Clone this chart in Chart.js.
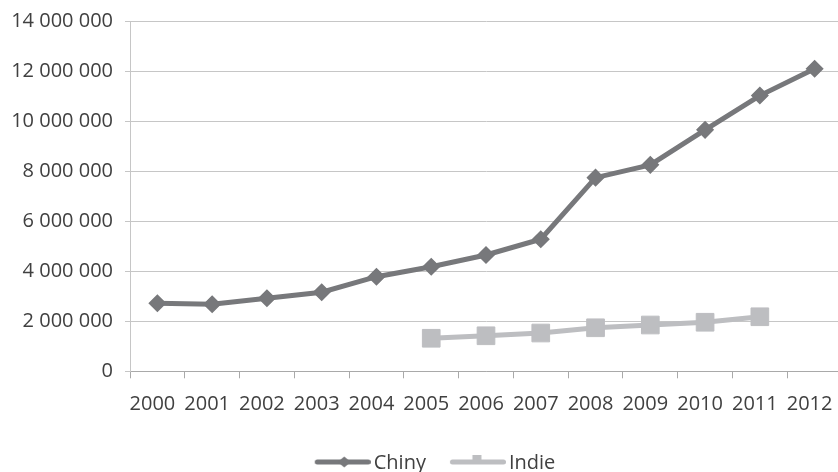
<!DOCTYPE html>
<html>
<head>
<meta charset="utf-8">
<script src="https://cdn.jsdelivr.net/npm/chart.js@4/dist/chart.umd.min.js"></script>
<style>
  html, body { margin: 0; padding: 0; background: #ffffff; overflow: hidden; }
  #frame { width: 838px; height: 472px; overflow: hidden; position: relative; }
  #box { position: absolute; left: 0; top: 0; width: 846px; height: 472px; }
</style>
</head>
<body>
<div id="frame"><div id="box"><canvas id="chart"></canvas></div></div>
<script>
// Roczne wartości dla Chin i Indii
const years = ['2000', '2001', '2002', '2003', '2004', '2005', '2006',
               '2007', '2008', '2009', '2010', '2011', '2012'];
const chiny = [2720000, 2680000, 2920000, 3160000, 3780000, 4180000, 4650000,
               5280000, 7740000, 8250000, 9650000, 11020000, 12090000];
const indie = [null, null, null, null, null, 1320000, 1420000,
               1530000, 1740000, 1850000, 1960000, 2180000, null];
const seriesNames = ['Chiny', 'Indie'];
const yMin = 0;
const yMax = 14000000;
const yStep = 2000000;

const COL_CHINY = '#77787b';
const COL_INDIE = '#bdbec1';
const TEXT = '#404040';
const FONT = { family: "'Open Sans', 'Noto Sans', sans-serif", size: 20 };

// liczby z odstępem jako separatorem tysięcy
function fmt(v) {
  return String(Math.round(v)).replace(/\B(?=(\d{3})+(?!\d))/g, ' ');
}

// próbka legendy: linia z markerem serii (szerokość dobrana do pointStyleWidth)
const LEG_BOX = 63;
function swatch(color, marker, mx) {
  const c = document.createElement('canvas');
  c.width = LEG_BOX + 14; c.height = 22;
  const g = c.getContext('2d');
  const y = 10;
  g.strokeStyle = color;
  g.lineWidth = 5;
  g.lineCap = 'round';
  g.beginPath();
  g.moveTo(LEG_BOX - 41 + 1.5, y);
  g.lineTo(LEG_BOX + 14 - 2.5, y);
  g.stroke();
  g.fillStyle = color;
  g.beginPath();
  if (marker === 'diamond') {
    g.moveTo(mx, y - 5.5);
    g.lineTo(mx + 6.5, y);
    g.lineTo(mx, y + 5.5);
    g.lineTo(mx - 6.5, y);
    g.closePath();
  } else {
    g.rect(mx - 4.5, y - 7, 9, 9);
  }
  g.fill();
  return c;
}
const swatches = [swatch(COL_CHINY, 'diamond', 50.5), swatch(COL_INDIE, 'square', 48)];

// etykiety osi Y mogą wychodzić poza lewy margines układu
const yLabelRoom = {
  id: 'yLabelRoom',
  afterLayout(chart) {
    chart.scales.y.left = 0;
  }
};

function noPadding(scale) {
  scale.paddingLeft = 0;
  scale.paddingRight = 0;
  scale.paddingTop = 0;
  scale.paddingBottom = 0;
}

new Chart(document.getElementById('chart'), {
  type: 'line',
  data: {
    labels: years,
    datasets: [
      {
        label: seriesNames[0],
        data: chiny,
        borderColor: COL_CHINY,
        backgroundColor: COL_CHINY,
        borderWidth: 5,
        pointStyle: 'rectRot',
        pointRadius: 8,
        pointBorderWidth: 1.5,
        pointBackgroundColor: COL_CHINY,
        pointBorderColor: COL_CHINY,
        tension: 0,
        order: 1
      },
      {
        label: seriesNames[1],
        data: indie,
        borderColor: COL_INDIE,
        backgroundColor: COL_INDIE,
        borderWidth: 5,
        pointStyle: 'rect',
        pointRadius: 12.5,
        pointBorderWidth: 1,
        pointBackgroundColor: COL_INDIE,
        pointBorderColor: COL_INDIE,
        tension: 0,
        order: 2
      }
    ]
  },
  plugins: [yLabelRoom],
  options: {
    responsive: true,
    maintainAspectRatio: false,
    animation: false,
    events: [],
    layout: {
      autoPadding: false,
      padding: { top: 21, right: 4, left: 14, bottom: -11 }
    },
    plugins: {
      tooltip: { enabled: false },
      legend: {
        position: 'bottom',
        labels: {
          usePointStyle: true,
          pointStyleWidth: LEG_BOX,
          padding: 10,
          color: TEXT,
          font: FONT,
          generateLabels(chart) {
            return chart.data.datasets.map((ds, i) => ({
              text: ds.label,
              pointStyle: swatches[i],
              fillStyle: ds.borderColor,
              strokeStyle: ds.borderColor,
              lineWidth: 0,
              fontColor: TEXT,
              hidden: false,
              datasetIndex: i
            }));
          }
        }
      }
    },
    scales: {
      x: {
        type: 'category',
        offset: true,
        grid: {
          offset: true,
          drawOnChartArea: false,
          drawTicks: true,
          tickLength: 7,
          color: '#a9a9a9',
          lineWidth: 1
        },
        border: { color: '#a9a9a9', width: 1 },
        ticks: {
          color: TEXT,
          font: FONT,
          padding: 14,
          labelOffset: -5,
          maxRotation: 0,
          autoSkip: false
        },
        afterFit(scale) {
          scale.height = 71.7;
          noPadding(scale);
        }
      },
      y: {
        min: yMin,
        max: yMax,
        grid: { color: '#c6c6c6', lineWidth: 1, tickLength: 5 },
        border: { color: '#c6c6c6', width: 1 },
        ticks: {
          stepSize: yStep,
          color: TEXT,
          font: FONT,
          padding: 12,
          callback: (v) => fmt(v)
        },
        afterFit(scale) {
          scale.width = 116;
          noPadding(scale);
        }
      }
    }
  }
});
</script>
</body>
</html>
